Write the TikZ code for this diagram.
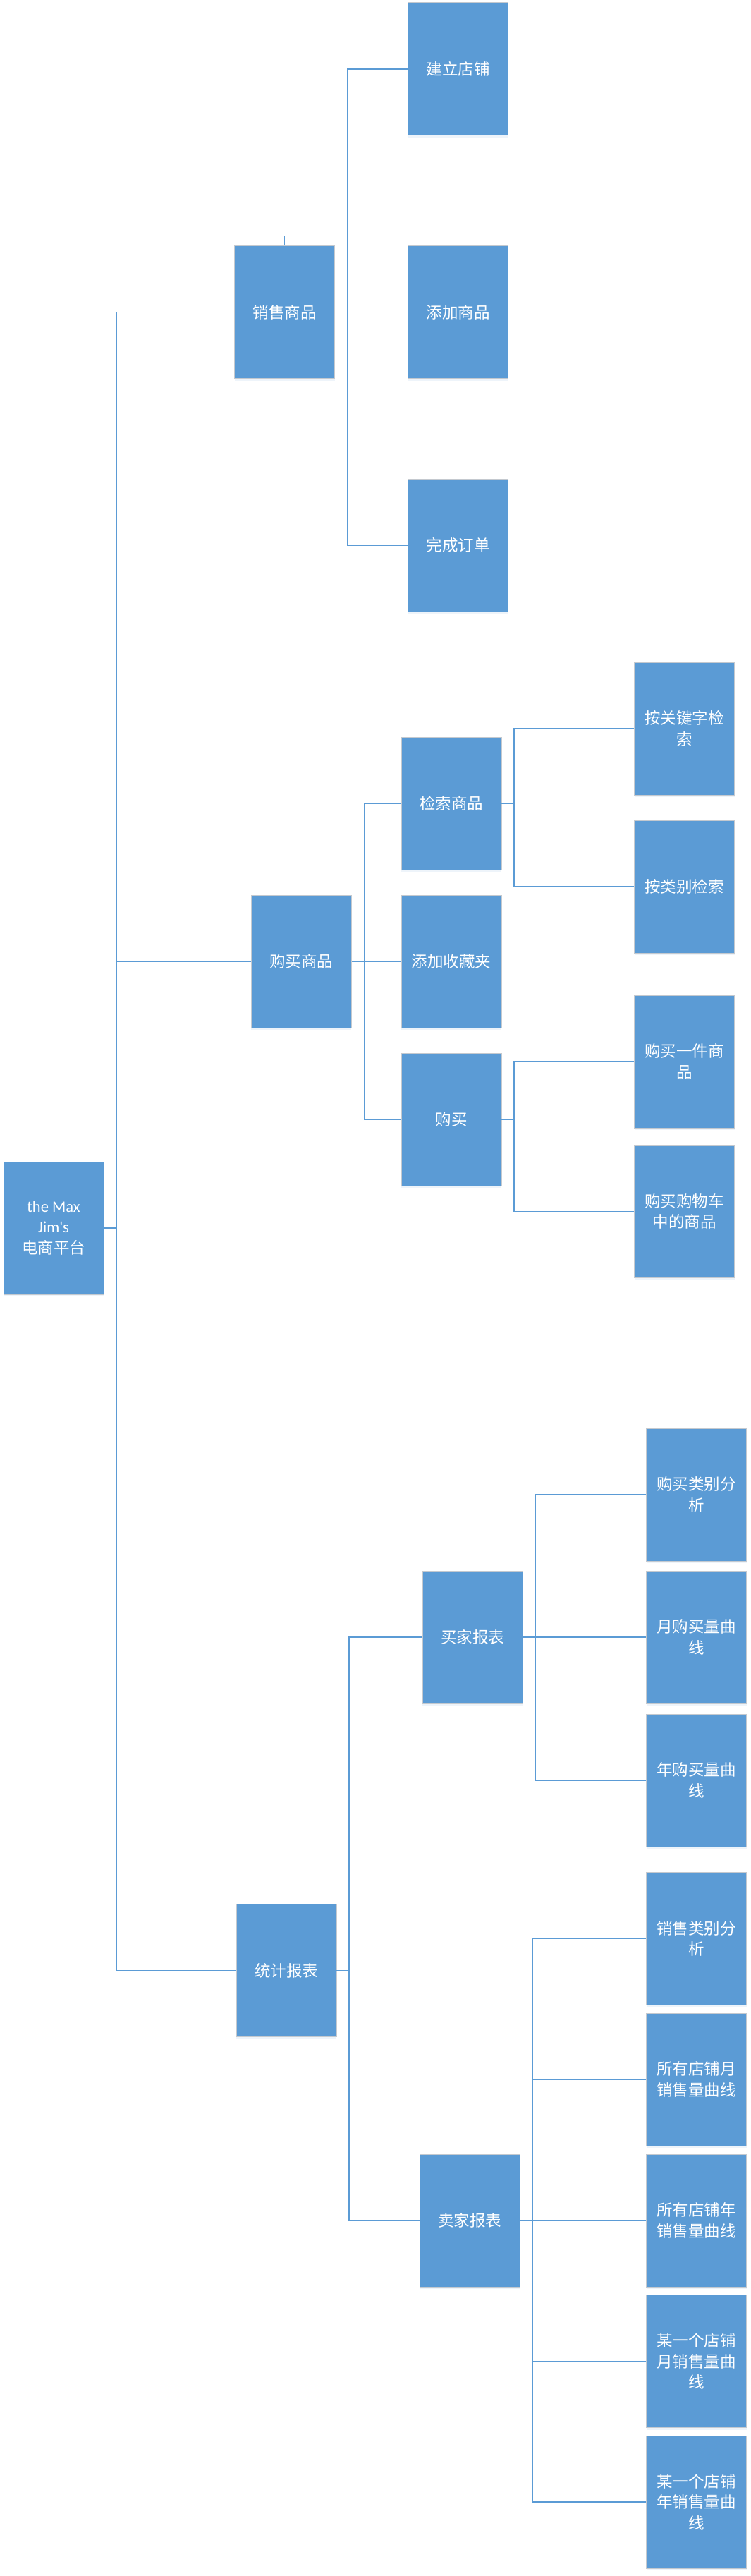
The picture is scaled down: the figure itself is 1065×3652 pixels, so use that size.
\documentclass[tikz,border=0pt]{standalone}
\usepackage{fontspec}
\newfontfamily\cjk{Noto Sans CJK SC}
\newfontfamily\lat{Carlito}
\usetikzlibrary{shadows}
\definecolor{boxblue}{HTML}{5B9BD5}
\definecolor{linkblue}{HTML}{5B9BD5}
\definecolor{boxedge}{HTML}{C4C9CF}
\begin{document}
\begin{tikzpicture}[x=1pt,y=-1pt,
  box/.style={rectangle, fill=boxblue, draw=boxedge, line width=0.8pt,
    minimum width=142pt, minimum height=188pt, inner sep=0pt,
    text=white, align=center, font=\cjk\fontsize{22.5}{29.5}\selectfont,
    drop shadow={shadow xshift=0pt, shadow yshift=-3pt, opacity=0.10, fill=boxblue}},
  link/.style={draw=linkblue, line width=1.5pt}]
\fill[white] (0,0) rectangle (1065,3652);
\useasboundingbox (0,0) rectangle (1065,3652);

% level 0
\node[box] (root) at (76,1741) {{\lat the Max}\\{\lat Jim's}\\电商平台};

% level 1
\node[box] (sell) at (403.5,442.5) {销售商品};
\node[box] (buy)  at (427.3,1363.2) {购买商品};
\node[box] (stat) at (406,2793.5) {统计报表};

% sell children
\node[box] (shop) at (649.7,97.8) {建立店铺};
\node[box] (add)  at (649.7,442.5) {添加商品};
\node[box] (order) at (649.7,773) {完成订单};

% buy children
\node[box] (search) at (640,1139) {检索商品};
\node[box] (fav)    at (640,1363.2) {添加收藏夹};
\node[box] (purch)  at (640,1587) {购买};

\node[box] (kw)   at (970.5,1033) {按关键字检\\索};
\node[box] (cat)  at (970.5,1257) {按类别检索};
\node[box] (one)  at (970.5,1505) {购买一件商\\品};
\node[box] (cart) at (970.5,1717.5) {购买购物车\\中的商品};

% stat children
\node[box] (buyer)  at (670,2321) {买家报表};
\node[box] (seller) at (666,3148) {卖家报表};

\node[box] (bcat) at (987.5,2119) {购买类别分\\析};
\node[box] (bmon) at (987.5,2321) {月购买量曲\\线};
\node[box] (byr)  at (987.5,2524) {年购买量曲\\线};

\node[box] (scat) at (987.5,2748.5) {销售类别分\\析};
\node[box] (amon) at (987.5,2948) {所有店铺月\\销售量曲线};
\node[box] (ayr)  at (987.5,3148) {所有店铺年\\销售量曲线};
\node[box] (omon) at (987.5,3347.5) {某一个店铺\\月销售量曲\\线};
\node[box] (oyr)  at (987.5,3547) {某一个店铺\\年销售量曲\\线};

% connectors
\foreach \c in {sell,buy,stat} \draw[link] (root.east) -- ++(17.4,0) |- (\c.west);
\draw[link] (sell.north) -- ++(0,-13);
\foreach \c in {shop,add,order} \draw[link] (sell.east) -- ++(17.6,0) |- (\c.west);
\foreach \c in {search,fav,purch} \draw[link] (buy.east) -- ++(17.6,0) |- (\c.west);
\foreach \c in {kw,cat} \draw[link] (search.east) -- ++(17.6,0) |- (\c.west);
\foreach \c in {one,cart} \draw[link] (purch.east) -- ++(17.6,0) |- (\c.west);
\foreach \c in {buyer,seller} \draw[link] (stat.east) -- ++(17.7,0) |- (\c.west);
\foreach \c in {bcat,bmon,byr} \draw[link] (buyer.east) -- ++(18,0) |- (\c.west);
\foreach \c in {scat,amon,ayr,omon,oyr} \draw[link] (seller.east) -- ++(18.3,0) |- (\c.west);
\end{tikzpicture}
\end{document}
